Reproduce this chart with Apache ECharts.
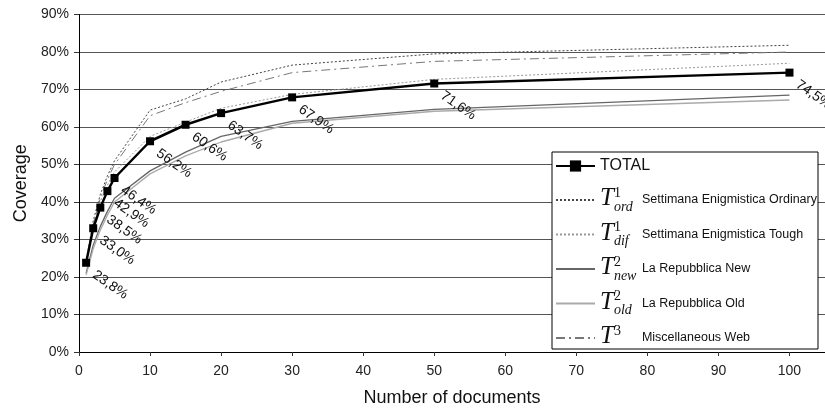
<!DOCTYPE html>
<html>
<head>
<meta charset="utf-8">
<script src="https://cdn.jsdelivr.net/npm/echarts@6/dist/echarts.min.js"></script>
<style>html,body{margin:0;padding:0;background:#fff}#c{width:825px;height:412px}</style>
</head>
<body>
<div id="c"></div>
<script>
const docs = [1, 2, 3, 4, 5, 10, 15, 20, 30, 50, 100];
const total = [23.8, 33.0, 38.5, 42.9, 46.4, 56.2, 60.6, 63.7, 67.9, 71.6, 74.5];
const tOrd  = [24.0, 35.0, 42.0, 47.0, 51.0, 64.5, 67.5, 72.0, 76.5, 79.5, 81.8];
const tDif  = [24.0, 34.0, 40.0, 44.5, 48.0, 57.5, 61.3, 65.0, 68.7, 72.7, 77.0];
const tNew  = [21.0, 28.5, 33.5, 37.5, 41.0, 48.3, 53.3, 57.5, 61.5, 64.7, 68.5];
const tOld  = [20.5, 27.5, 32.5, 36.5, 40.0, 47.5, 52.3, 56.0, 61.0, 64.2, 67.2];
const t3    = [23.5, 34.0, 41.0, 46.0, 50.0, 63.0, 66.5, 69.5, 74.5, 77.5, 80.0];
const xTicks = [0, 10, 20, 30, 40, 50, 60, 70, 80, 90, 100];

const pairs = v => docs.map((d, i) => [d, v[i]]);
const SANS = "'Liberation Sans', Arial, Helvetica, sans-serif";
const SERIF = "'Liberation Serif', 'Times New Roman', serif";

const legendText = {
  'TOTAL': '{tot|TOTAL}',
  'ord': '{T|T}{sup|1}{sub|ord}{d|Settimana Enigmistica Ordinary}',
  'dif': '{T|T}{sup|1}{sub|dif}{d|Settimana Enigmistica Tough}',
  'new': '{T|T}{sup|2}{sub|new}{d|La Repubblica New}',
  'old': '{T|T}{sup|2}{sub|old}{d|La Repubblica Old}',
  'T3':  '{T|T}{sup3|3}{d|Miscellaneous Web}'
};

const chart = echarts.init(document.getElementById('c'), null, {renderer: 'canvas'});
const thin = (name, data, color, type, width) => ({
  name, type: 'line', data: pairs(data), symbol: 'none', showSymbol: false,
  lineStyle: {color, type, width}, itemStyle: {color}, z: 1, silent: true
});
const hidden = name => ({name, itemStyle: {opacity: 0, color: 'rgba(0,0,0,0)', borderWidth: 0}});
const legendTextStyle = {
  color: '#111', fontFamily: SANS,
  rich: {
    tot: {fontSize: 16, fontFamily: SANS, color: '#111', lineHeight: 28, verticalAlign: 'middle'},
    T: {fontSize: 25, fontFamily: SERIF, fontStyle: 'italic', color: '#111', lineHeight: 22, verticalAlign: 'top'},
    sup: {fontSize: 14, fontFamily: SERIF, color: '#111', lineHeight: 12, verticalAlign: 'top', width: 0},
    sup3: {fontSize: 14, fontFamily: SERIF, color: '#111', lineHeight: 12, verticalAlign: 'top', width: 28},
    sub: {fontSize: 14, fontFamily: SERIF, fontStyle: 'italic', color: '#111', lineHeight: 20, verticalAlign: 'bottom', width: 28},
    d: {fontSize: 12.5, fontFamily: SANS, color: '#111', lineHeight: 28, verticalAlign: 'middle'}
  }
};

chart.setOption({
  animation: false,
  backgroundColor: '#fff',
  grid: {left: 79, right: 0, top: 14.5, bottom: 58, containLabel: false},
  xAxis: {
    type: 'value', min: 0, max: 105, interval: 10,
    name: 'Number of documents', nameLocation: 'middle', nameGap: 37,
    nameTextStyle: {fontSize: 18, fontFamily: SANS, color: '#111'},
    axisLine: {show: true, lineStyle: {color: '#000', width: 1}},
    axisTick: {show: true, length: 4, customValues: xTicks, lineStyle: {color: '#333'}},
    axisLabel: {customValues: xTicks, fontSize: 14, fontFamily: SANS, color: '#222', margin: 12},
    splitLine: {show: false}
  },
  yAxis: {
    type: 'value', min: 0, max: 90, interval: 10,
    name: 'Coverage', nameLocation: 'middle', nameGap: 44,
    nameTextStyle: {fontSize: 18, fontFamily: SANS, color: '#111'},
    axisLine: {show: true, lineStyle: {color: '#000', width: 1}},
    axisTick: {show: true, length: 5, lineStyle: {color: '#333'}},
    axisLabel: {formatter: '{value}%', fontSize: 14, fontFamily: SANS, color: '#222', margin: 10},
    splitLine: {show: true, lineStyle: {color: '#555', width: 1}}
  },
  legend: [{
    orient: 'vertical', left: 555, top: 158, padding: 0,
    itemWidth: 39, itemHeight: 14, selectedMode: false, z: 10,
    data: ['TOTAL'],
    formatter: name => legendText[name],
    textStyle: legendTextStyle
  }, {
    orient: 'vertical', left: 555, top: 186, padding: 0, itemGap: 6.5,
    itemWidth: 39, itemHeight: 14, selectedMode: false, z: 10,
    data: [hidden('ord'), hidden('dif'), hidden('new'), hidden('old'), hidden('T3')],
    formatter: name => legendText[name],
    textStyle: legendTextStyle
  }],
  graphic: [{
    type: 'rect', z: 5, silent: true,
    shape: {x: 552, y: 152, width: 266, height: 197},
    style: {fill: '#fff', stroke: '#000', lineWidth: 1}
  }],
  series: [
    thin('ord', tOrd, '#444', [2, 2], 1),
    thin('dif', tDif, '#999', [2, 2], 1),
    thin('new', tNew, '#666', 'solid', 1.3),
    thin('old', tOld, '#aaa', 'solid', 1.3),
    thin('T3', t3, '#777', [9, 4, 2, 4], 1),
    {
      name: 'TOTAL', type: 'line', data: pairs(total), z: 3,
      symbol: 'rect', symbolSize: 8, showSymbol: true, silent: true,
      lineStyle: {color: '#000', width: 2.5}, itemStyle: {color: '#000'},
      label: {
        show: true, position: 'right', distance: 4, align: 'left', verticalAlign: 'middle',
        rotate: -35, offset: [6, 9], fontSize: 14, fontFamily: SANS, color: '#111',
        formatter: p => p.value[1].toFixed(1).replace('.', ',') + '%'
      }
    }
  ]
});
</script>
</body>
</html>
